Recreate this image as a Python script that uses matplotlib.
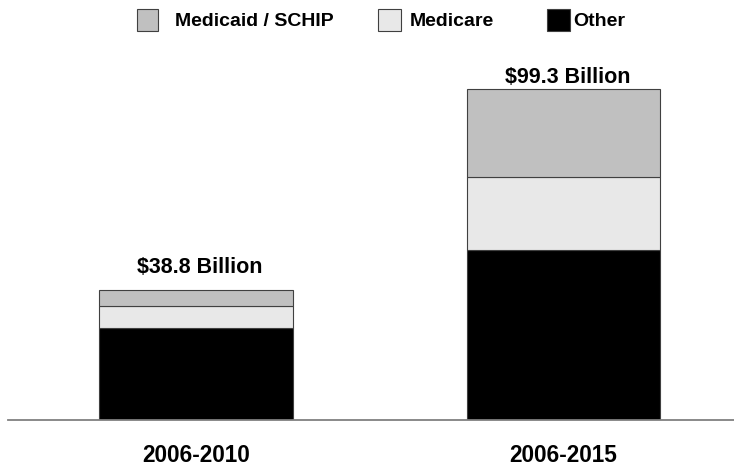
import matplotlib.pyplot as plt
from matplotlib.patches import Rectangle

plt.rcParams['font.family'] = ['Liberation Sans', 'DejaVu Sans']

# Spending by payer, billions of dollars
periods = ['2006-2010', '2006-2015']
other = [27.6, 50.8]
medicare = [6.4, 22.1]
medicaid = [4.8, 26.4]
totals = [38.8, 99.3]
total_labels = ['$38.8 Billion', '$99.3 Billion']

series = ['Medicaid / SCHIP', 'Medicare', 'Other']
colors = {'Medicaid / SCHIP': '#c0c0c0', 'Medicare': '#e8e8e8', 'Other': '#000000'}

W, H = 734, 470
fig = plt.figure(figsize=(W / 100, H / 100), dpi=100)

# axes in pixel terms: baseline 50.5px from bottom, left edge at x=8
ax = fig.add_axes([8 / W, 50.5 / H, 1 - 8 / W, 1 - 50.5 / H])
ax.set_xlim(-0.511, 1.464)
ax.set_ylim(0, 419.5 / 3.33)

x = [0, 1]
width = 0.527
edge = '#404040'
ax.bar(x, other, width, color=colors['Other'], edgecolor=edge, linewidth=0.8)
ax.bar(x, medicare, width, bottom=other, color=colors['Medicare'],
       edgecolor=edge, linewidth=0.8)
bottoms = [o + m for o, m in zip(other, medicare)]
ax.bar(x, medicaid, width, bottom=bottoms, color=colors['Medicaid / SCHIP'],
       edgecolor=edge, linewidth=0.8)

# totals above the bars
label_pad = [17, 6]  # px above bar top to text baseline
for xi, tot, lab, pad in zip(x, totals, total_labels, label_pad):
    ax.annotate(lab, (xi, tot), xytext=(4 * 0.72, pad * 0.72),
                textcoords='offset points', ha='center', va='baseline',
                fontsize=15.5, fontweight='bold')

# period labels below the baseline
for xi, p in zip(x, periods):
    ax.text(xi, -36 / 419.5, p, transform=ax.get_xaxis_transform(),
            ha='center', va='center', fontsize=16.3, fontweight='bold')

for s in ['top', 'right', 'left']:
    ax.spines[s].set_visible(False)
ax.spines['bottom'].set_color('#808080')
ax.spines['bottom'].set_linewidth(1.3)
ax.set_xticks([])
ax.set_yticks([])

# legend row across the top
legend_x = [137, 377.5, 547]   # patch left edges, px
patch_w = [20.5, 23, 23]
text_gap = [17.5, 9.5, 3]
for name, lx, pw, gap in zip(series, legend_x, patch_w, text_gap):
    fig.add_artist(Rectangle((lx / W, 1 - 30.5 / H), pw / W, 21.5 / H,
                             transform=fig.transFigure,
                             facecolor=colors[name], edgecolor='#404040',
                             linewidth=0.8))
    fig.text((lx + pw + gap) / W, 1 - 21.7 / H, name, ha='left', va='center',
             fontsize=14, fontweight='bold')

fig.savefig('out.png', dpi=100)
